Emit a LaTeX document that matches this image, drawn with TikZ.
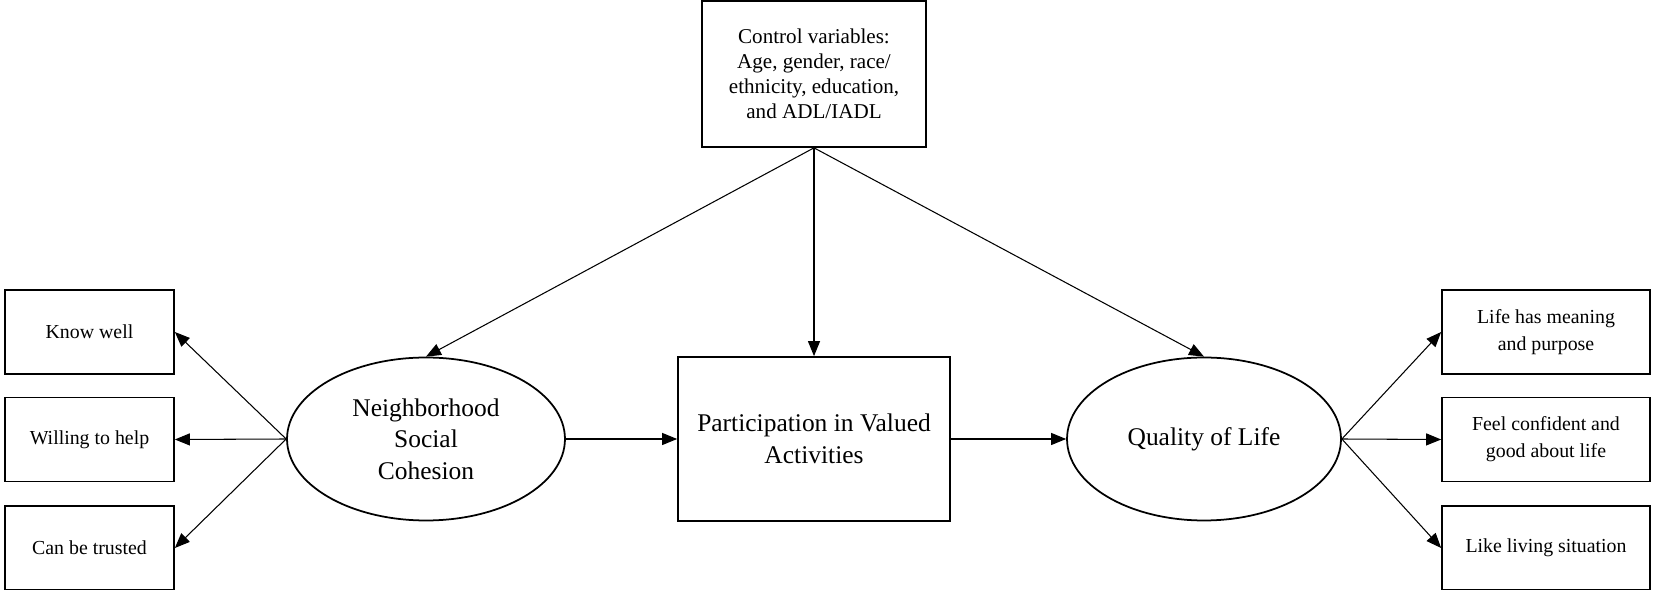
\documentclass[tikz,border=0pt]{standalone}
\usepackage{fontspec}
\setmainfont{Liberation Serif}
\usetikzlibrary{shapes.geometric,arrows.meta}
\tikzstyle{item} = [draw, rectangle, line width=1pt, minimum height=1.68cm, align=center, font=\fontsize{11.3}{15.3}\selectfont]
\tikzstyle{latent} = [draw, ellipse, line width=1pt, minimum height=3.26cm, align=center, font=\fontsize{14.5}{18}\selectfont]
\tikzstyle{link} = [line width=0.6pt, -{Triangle[length=0.3cm,width=0.24cm]}]

\begin{document}
\begin{tikzpicture}[x=0.02cm, y=-0.02cm]
    \useasboundingbox (0,0) rectangle (1653,590);
    % control variables and the main path
    \node[draw, line width=1pt, minimum width=4.48cm, minimum height=2.92cm, align=center, font=\fontsize{12}{14.2}\selectfont] (ctrl) at (814,74)
        {Control variables:\\Age, gender, race/\\ethnicity, education,\\and ADL/IADL};
    \node[latent, minimum width=5.56cm] (nsc) at (426,439) {Neighborhood\\Social\\Cohesion};
    \node[draw, line width=1pt, minimum width=5.44cm, minimum height=3.28cm, align=center, font=\fontsize{14.5}{18}\selectfont] (pva) at (814,439)
        {Participation in Valued\\Activities};
    \node[latent, minimum width=5.48cm] (qol) at (1204,439) {Quality of Life};
    % indicators
    \node[item, minimum width=3.38cm] (know) at (89.5,332) {Know well};
    \node[item, minimum width=3.38cm] (help) at (89.5,439.5) {Willing to help};
    \node[item, minimum width=3.38cm] (trust) at (89.5,548) {Can be trusted};
    \node[item, minimum width=4.16cm] (mean) at (1546,332) {Life has meaning\\and purpose};
    \node[item, minimum width=4.16cm] (conf) at (1546,439.5) {Feel confident and\\good about life};
    \node[item, minimum width=4.16cm] (like) at (1546,548) {Like living situation};

    \draw[link] (ctrl.south) -- (nsc.north);
    \draw[link] (ctrl.south) -- (pva.north);
    \draw[link] (ctrl.south) -- (qol.north);
    \draw[link] (nsc.east) -- (pva.west);
    \draw[link] (pva.east) -- (qol.west);
    \foreach \b in {know, help, trust}
        \draw[link] (nsc.west) -- (\b.east);
    \foreach \b in {mean, conf, like}
        \draw[link] (qol.east) -- (\b.west);
\end{tikzpicture}
\end{document}
